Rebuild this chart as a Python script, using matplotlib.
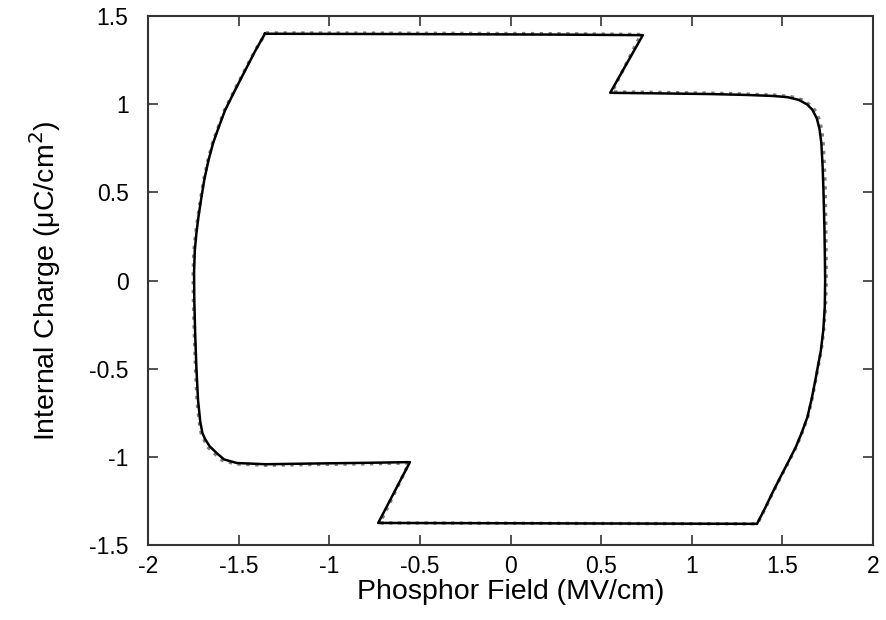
import matplotlib
matplotlib.use("Agg")
import matplotlib.pyplot as plt

# Simulated Q-F loop (solid line)
field_sim = [-1.355, -0.5, 0.3, 0.73,
             0.55, 0.8, 1.1, 1.3, 1.45, 1.53, 1.59, 1.635, 1.665, 1.69, 1.705, 1.715,
             1.722, 1.727, 1.732, 1.735, 1.736, 1.734, 1.726, 1.712, 1.699, 1.682, 1.662,
             1.638, 1.608, 1.574, 1.532, 1.489, 1.447, 1.405, 1.36,
             0.5, -0.3, -0.73,
             -0.555, -0.8, -1.1, -1.35, -1.51, -1.58, -1.62, -1.66, -1.685, -1.70, -1.712,
             -1.724, -1.733, -1.74, -1.745, -1.746, -1.742, -1.733, -1.722, -1.708, -1.69,
             -1.667, -1.641, -1.61, -1.575, -1.52, -1.465, -1.41, -1.355]
charge_sim = [1.40, 1.398, 1.395, 1.392,
              1.065, 1.062, 1.058, 1.053, 1.047, 1.04, 1.025, 1.0, 0.97, 0.92, 0.86, 0.78,
              0.65, 0.5, 0.3, 0.1, 0.0, -0.15, -0.28, -0.40, -0.47, -0.565, -0.67,
              -0.775, -0.86, -0.945, -1.03, -1.115, -1.2, -1.29, -1.38,
              -1.378, -1.376, -1.375,
              -1.03, -1.034, -1.038, -1.042, -1.035, -1.015, -0.98, -0.94, -0.90, -0.865, -0.80,
              -0.68, -0.5, -0.3, -0.1, 0.05, 0.17, 0.27, 0.36, 0.456, 0.57,
              0.68, 0.78, 0.87, 0.966, 1.08, 1.19, 1.30, 1.40]

# Measured Q-F loop (dotted line)
field_exp = [-1.35, -0.5, 0.3, 0.72,
             0.56, 0.8, 1.1, 1.3, 1.46, 1.55, 1.61, 1.655, 1.685, 1.705, 1.718, 1.726,
             1.732, 1.737, 1.74, 1.742, 1.742, 1.738, 1.728, 1.714, 1.701, 1.684, 1.664,
             1.640, 1.610, 1.576, 1.534, 1.491, 1.449, 1.407, 1.362,
             0.5, -0.3, -0.72,
             -0.56, -0.8, -1.1, -1.35, -1.52, -1.59, -1.63, -1.67, -1.693, -1.707, -1.718,
             -1.73, -1.738, -1.745, -1.75, -1.751, -1.747, -1.737, -1.725, -1.711, -1.693,
             -1.67, -1.644, -1.613, -1.578, -1.523, -1.468, -1.412, -1.35]
charge_exp = [1.405, 1.403, 1.40, 1.396,
              1.07, 1.068, 1.063, 1.058, 1.052, 1.043, 1.025, 0.995, 0.96, 0.91, 0.85, 0.77,
              0.65, 0.5, 0.3, 0.1, 0.0, -0.15, -0.28, -0.40, -0.47, -0.565, -0.67,
              -0.775, -0.86, -0.945, -1.03, -1.115, -1.2, -1.29, -1.38,
              -1.378, -1.376, -1.375,
              -1.035, -1.04, -1.044, -1.048, -1.04, -1.02, -0.985, -0.945, -0.90, -0.865, -0.80,
              -0.68, -0.5, -0.3, -0.1, 0.05, 0.17, 0.27, 0.36, 0.456, 0.57,
              0.68, 0.78, 0.87, 0.966, 1.08, 1.19, 1.30, 1.405]

xticks = [-2, -1.5, -1, -0.5, 0, 0.5, 1, 1.5, 2]
yticks = [-1.5, -1, -0.5, 0, 0.5, 1, 1.5]
xticklabels = ["-2", "-1.5", "-1", "-0.5", "0", "0.5", "1", "1.5", "2"]
yticklabels = ["-1.5", "-1", "-0.5", "0", "0.5", "1", "1.5"]

plt.rcParams['font.family'] = ['Liberation Sans', 'DejaVu Sans']

fig = plt.figure(figsize=(8.87, 6.2), dpi=100)
ax = fig.add_axes([0.1669, 0.121, 0.8173, 0.853])

ax.plot(field_exp, charge_exp, color='#808080', lw=2.4, ls=':', zorder=2)
ax.plot(field_sim, charge_sim, color='black', lw=1.8, zorder=3)

ax.set_xlim(-2, 2)
ax.set_ylim(-1.5, 1.5)
ax.set_xticks(xticks)
ax.set_xticklabels(xticklabels)
ax.set_yticks(yticks)
ax.set_yticklabels(yticklabels)
ax.tick_params(axis='both', direction='in', top=True, right=True, length=7, width=1.2,
               labelsize=16.5, color='#333333')
ax.tick_params(axis='x', pad=7)
ax.tick_params(axis='y', pad=14)
for s in ax.spines.values():
    s.set_linewidth(1.5)
    s.set_color('#333333')

ax.set_xlabel('Phosphor Field (MV/cm)', fontsize=20.5, labelpad=1)
ax.set_ylabel('Internal Charge (\u03bcC/cm$^2$)', fontsize=20.5, labelpad=19)

fig.savefig('out.png', dpi=100)
